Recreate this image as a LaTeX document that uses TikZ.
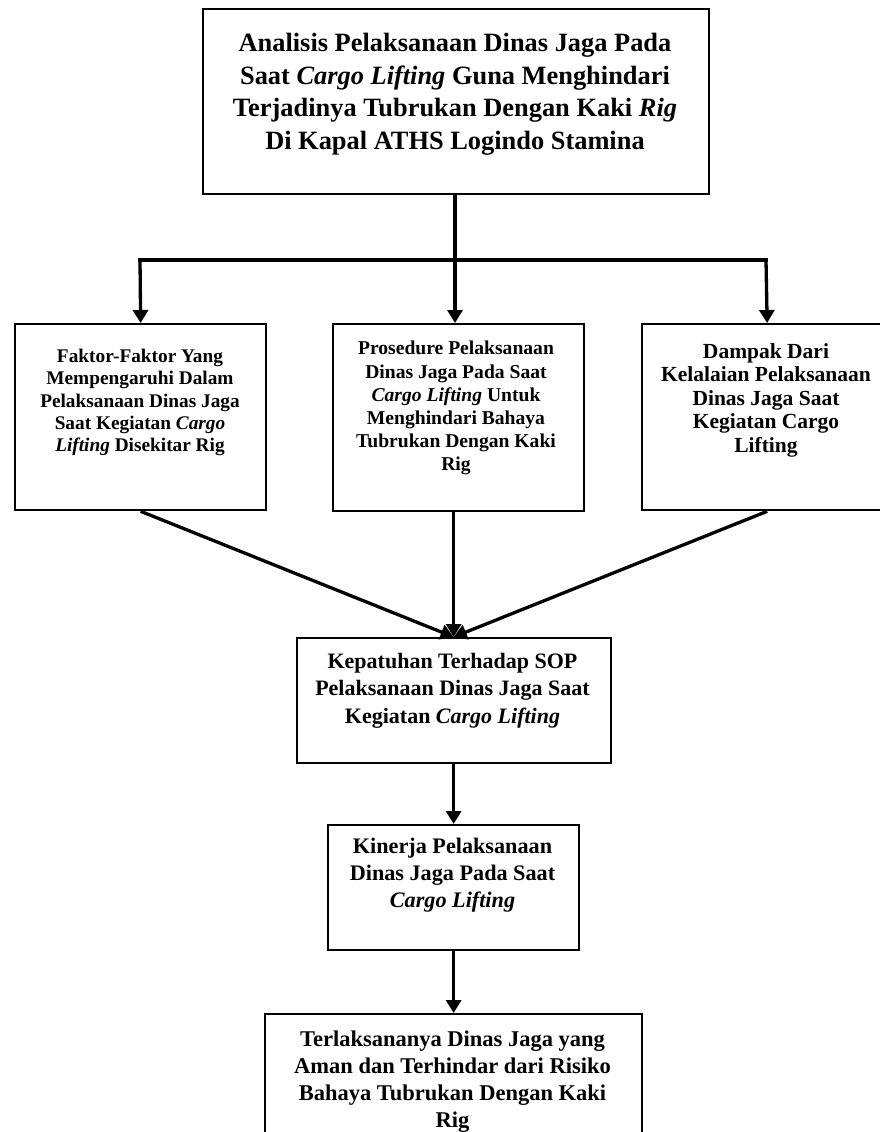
\documentclass[tikz,border=0pt]{standalone}
\usepackage{fontspec}
\setmainfont{Liberation Serif}
\usetikzlibrary{arrows.meta}
\tikzset{
  boxst/.style={draw=black, line width=2.3pt, rectangle, inner sep=0pt, anchor=north west},
  txt/.style={align=center, inner sep=0pt, anchor=north, font=\bfseries},
  conn/.style={line width=3.3pt, -{Triangle[width=15pt,length=13pt]}},
  plain/.style={line width=3.3pt}
}
\begin{document}
\begin{tikzpicture}[x=1pt,y=-1pt]
\useasboundingbox (0,0) rectangle (880,1132);
\clip (0,0) rectangle (880,1132);
\fill[white] (0,0) rectangle (880,1132);

% boxes
\node[boxst, minimum width=506pt, minimum height=185pt] (top) at (202,8) {};
\node[boxst, minimum width=251pt, minimum height=186pt] (left) at (14,323) {};
\node[boxst, minimum width=251pt, minimum height=187pt] (mid) at (332,323) {};
\node[boxst, minimum width=250pt, minimum height=186pt] (right) at (641,323) {};
\node[boxst, minimum width=314pt, minimum height=125pt] (sop) at (295.5,637) {};
\node[boxst, minimum width=251pt, minimum height=125pt] (kin) at (327,824) {};
\node[boxst, minimum width=377pt, minimum height=160pt] (fin) at (264,1013) {};

% texts
\node[txt, font=\bfseries\fontsize{26.4}{32.5}\selectfont] (topT) at (455,33)
  {Analisis Pelaksanaan Dinas Jaga Pada\\
   Saat \textit{Cargo Lifting} Guna Menghindari\\
   Terjadinya Tubrukan Dengan Kaki \textit{Rig}\\
   Di Kapal ATHS Logindo Stamina};
\node[txt, font=\bfseries\fontsize{19.3}{22.3}\selectfont] (leftT) at (140,349)
  {Faktor-Faktor Yang\\
   Mempengaruhi Dalam\\
   Pelaksanaan Dinas Jaga\\
   Saat Kegiatan \textit{Cargo}\\
   \textit{Lifting} Disekitar Rig};
\node[txt, font=\bfseries\fontsize{19.6}{23.2}\selectfont] (midT) at (456,341)
  {Prosedure Pelaksanaan\\
   Dinas Jaga Pada Saat\\
   \textit{Cargo Lifting} Untuk\\
   Menghindari Bahaya\\
   Tubrukan Dengan Kaki\\
   Rig};
\node[txt, font=\bfseries\fontsize{21.5}{23.5}\selectfont] (rightT) at (766,343)
  {Dampak Dari\\
   Kelalaian Pelaksanaan\\
   Dinas Jaga Saat\\
   Kegiatan Cargo\\
   Lifting};
\node[txt, font=\bfseries\fontsize{22}{27.5}\selectfont] (sopT) at (452.5,653)
  {Kepatuhan Terhadap SOP\\
   Pelaksanaan Dinas Jaga Saat\\
   Kegiatan \textit{Cargo Lifting}};
\node[txt, font=\bfseries\fontsize{22.2}{26.7}\selectfont] (kinT) at (452.5,838)
  {Kinerja Pelaksanaan\\
   Dinas Jaga Pada Saat\\
   \textit{Cargo Lifting}};
\node[txt, font=\bfseries\fontsize{22.5}{27}\selectfont] (finT) at (452.5,1031)
  {Terlaksananya Dinas Jaga yang\\
   Aman dan Terhindar dari Risiko\\
   Bahaya Tubrukan Dengan Kaki\\
   Rig};

% connectors
\coordinate (hl) at (140,260);
\coordinate (hm) at (455,260);
\coordinate (hr) at (766,260);
\draw[plain] (top.south -| hm) -- (hm);
\draw[plain, line cap=rect] (hl) -- (hr);
\draw[conn] (hl) -- (left.north);
\draw[conn] (hm) -- (hm |- mid.north);
\draw[conn] (hr) -- (right.north);

\draw[conn] (left.south) -- (sop.north);
\draw[conn] (mid.south -| sop.north) -- (sop.north);
\draw[conn] (right.south) -- (sop.north);

\draw[conn] (sop.south) -- (kin.north);
\draw[conn] (kin.south) -- (fin.north);
\end{tikzpicture}
\end{document}
